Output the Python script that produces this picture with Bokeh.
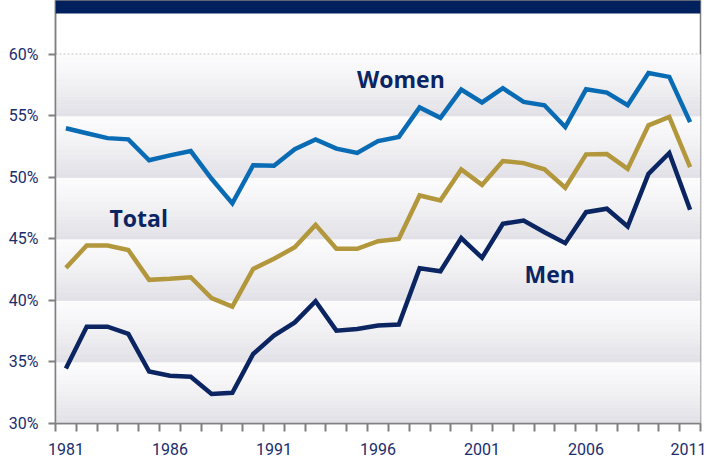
from bokeh.plotting import figure
from bokeh.models import Range1d, FixedTicker, PrintfTickFormatter, BoxAnnotation, ColumnDataSource
from bokeh.core.properties import value
from bokeh.embed import file_html
from bokeh.resources import INLINE

years = list(range(1981, 2012))
women = [54.0, 53.6, 53.2, 53.1, 51.4, 51.8, 52.15, 49.9, 47.9, 51.0, 50.95, 52.3, 53.1, 52.35, 52.0,
         52.96, 53.3, 55.7, 54.85, 57.15, 56.1, 57.26, 56.14, 55.87, 54.1, 57.17, 56.9, 55.87, 58.5, 58.18, 54.5]
total = [42.65, 44.47, 44.47, 44.1, 41.68, 41.76, 41.89, 40.2, 39.5, 42.57, 43.39, 44.33, 46.15, 44.2, 44.2,
         44.82, 45.0, 48.54, 48.14, 50.66, 49.4, 51.34, 51.17, 50.66, 49.17, 51.88, 51.9, 50.7, 54.24, 54.92, 50.85]
men = [34.48, 37.87, 37.87, 37.28, 34.23, 33.88, 33.8, 32.4, 32.5, 35.65, 37.14, 38.22, 39.94, 37.55, 37.69,
       37.96, 38.04, 42.62, 42.38, 45.07, 43.47, 46.24, 46.5, 45.55, 44.66, 47.18, 47.46, 46.02, 50.3, 51.99, 47.38]
y_ticks = [30, 35, 40, 45, 50, 55, 60]
x_label_years = [1981, 1986, 1991, 1996, 2001, 2006, 2011]

series_names = ["Women", "Total", "Men"]
label_x = [1997.1, 1984.5, 2004.25]
label_y = [58.0, 46.67, 42.19]

NAVY = "#0b2462"
colors = {"Women": "#0a6bb5", "Total": "#b3973c", "Men": "#0b2462"}

x0, x1 = years[0] - 0.5, years[-1] + 0.5
p = figure(width=706, height=462, output_backend="svg", toolbar_location=None,
           x_range=Range1d(x0, x1), y_range=Range1d(30, 64.39),
           min_border_left=55, min_border_right=6, min_border_top=0, min_border_bottom=39)
p.background_fill_color = "white"
p.border_fill_color = "white"
p.outline_line_color = "#808080"
p.outline_line_width = 1.5

# gradient bands
def lerp(c0, c1, t):
    return "#%02x%02x%02x" % tuple(int(round(a + (b - a) * t)) for a, b in zip(c0, c1))

top_c = (252, 252, 253)
bot_c = (224, 224, 230)
N = 16
bt, bb, bc = [], [], []
for lo in y_ticks[:-1]:
    hi = lo + 5
    for i in range(N):
        t = (i + 0.5) / N
        bt.append(hi - 5 * i / N)
        bb.append(hi - 5 * (i + 1) / N)
        bc.append(lerp(top_c, bot_c, t ** 1.3))
src = ColumnDataSource(dict(top=bt, bottom=bb, color=bc))
p.quad(left=x0, right=x1, top="top", bottom="bottom", fill_color="color", line_color="color",
       line_width=0.6, source=src, level="underlay")

# dotted grid
p.xgrid.grid_line_color = None
p.ygrid.ticker = FixedTicker(ticks=y_ticks[1:])
p.ygrid.grid_line_color = "#858585"
p.ygrid.grid_line_dash = "2 2"
p.ygrid.grid_line_width = 1.5
p.ygrid.level = "image"

# lines
for name, vals in zip(series_names, [women, total, men]):
    p.line(years, vals, line_color=colors[name], line_width=4.5, line_join="miter")

# labels
p.text(x=label_x, y=label_y, text=series_names, text_font=value("Open Sans"), text_font_style="bold",
       text_font_size="23px", text_color=NAVY, text_align="center", text_baseline="middle")

# axes
FONT = "Roboto"
LBL = "#1b2d6b"
ya = p.yaxis[0]
ya.ticker = FixedTicker(ticks=y_ticks)
ya.formatter = PrintfTickFormatter(format="%d%%")
ya.axis_line_color = "#808080"
ya.axis_line_width = 1.5
ya.major_tick_line_color = "#808080"
ya.major_tick_line_width = 2
ya.major_tick_out = 7
ya.major_tick_in = 0
ya.minor_tick_line_color = None
ya.major_label_standoff = 10
ya.major_label_text_font = FONT
ya.major_label_text_font_size = "16px"
ya.major_label_text_color = LBL

xa = p.xaxis[0]
xa.ticker = FixedTicker(ticks=x_label_years, minor_ticks=[y - 0.5 for y in years] + [years[-1] + 0.5])
xa.axis_line_color = "#808080"
xa.axis_line_width = 1.5
xa.major_tick_line_color = None
xa.major_tick_out = 0
xa.major_tick_in = 0
xa.minor_tick_line_color = "#808080"
xa.minor_tick_line_width = 2
xa.minor_tick_out = 8
xa.minor_tick_in = 0
xa.major_label_standoff = 11
xa.major_label_text_font = FONT
xa.major_label_text_font_size = "16px"
xa.major_label_text_color = LBL

# navy header bar
p.add_layout(BoxAnnotation(bottom=63.33, fill_color="#01205e", fill_alpha=1.0, line_color=None, level="overlay"))

open("out.html", "w").write(file_html(p, INLINE))
